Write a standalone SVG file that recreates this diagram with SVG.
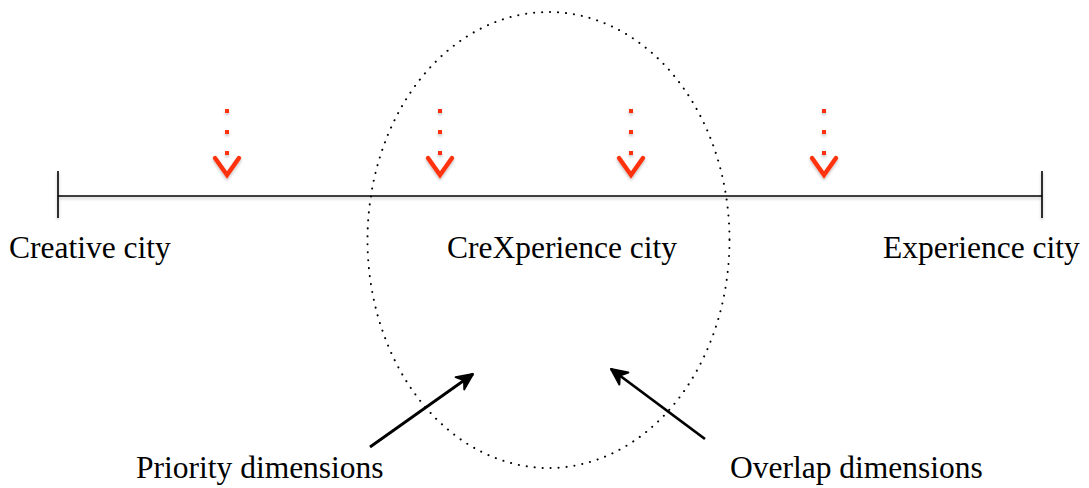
<svg xmlns="http://www.w3.org/2000/svg" width="1089" height="488" viewBox="0 0 1089 488">
  <style>
    .label { font-family: "Liberation Serif", "Times New Roman", serif; font-size: 31.5px; fill: #000; }
    .axis { stroke: #000; stroke-width: 1.6; fill: none; }
    .dots { stroke: #ff3311; stroke-width: 4; stroke-dasharray: 4 17; fill: none; }
    .chev { stroke: #ff3311; stroke-width: 4.4; fill: none; stroke-linecap: round; stroke-linejoin: miter; }
    .ptr { stroke: #000; stroke-width: 2.8; fill: none; }
  </style>
  <defs>
    <filter id="soft" x="-5%" y="-50%" width="110%" height="200%">
      <feDropShadow dx="0" dy="2" stdDeviation="1.5" flood-color="#000" flood-opacity="0.25"/>
    </filter>
    <marker id="barb" viewBox="0 0 16 16" refX="14" refY="8" markerWidth="16" markerHeight="16" markerUnits="userSpaceOnUse" orient="auto" overflow="visible">
      <path d="M-2,0.5 L14,8 L-2,15.5 L3,8 Z" fill="#000" stroke="#000" stroke-width="2" stroke-linejoin="round"/>
    </marker>
  </defs>

  <!-- scale axis -->
  <g id="axis" filter="url(#soft)">
    <line class="axis" x1="58" y1="196" x2="1042" y2="196"/>
    <line class="axis" x1="58" y1="171" x2="58" y2="218"/>
    <line class="axis" x1="1042" y1="171" x2="1042" y2="218"/>
  </g>

  <!-- overlap zone -->
  <g id="overlap-zone">
    <ellipse cx="548.5" cy="240" rx="181" ry="228" fill="none" stroke="#000" stroke-width="2" stroke-dasharray="0.1 7.9" stroke-linecap="round"/>
  </g>

  <!-- end and middle labels -->
  <g id="creative-city"><text class="label" x="9" y="258">Creative city</text></g>
  <g id="crexperience-city"><text class="label" x="447" y="258">CreXperience city</text></g>
  <g id="experience-city"><text class="label" x="883" y="258">Experience city</text></g>
  <g id="priority-dimensions"><text class="label" x="136" y="478">Priority dimensions</text></g>
  <g id="overlap-dimensions"><text class="label" x="730" y="478">Overlap dimensions</text></g>

  <!-- connectors -->
  <g id="connectors">
    <g filter="url(#soft)">
      <line class="dots" x1="227" y1="109" x2="227" y2="156"/>
      <polyline class="chev" points="215,158 227,175 239,158"/>
      <line class="dots" x1="440" y1="109" x2="440" y2="156"/>
      <polyline class="chev" points="428,158 440,175 452,158"/>
      <line class="dots" x1="631" y1="109" x2="631" y2="156"/>
      <polyline class="chev" points="619,158 631,175 643,158"/>
      <line class="dots" x1="824" y1="109" x2="824" y2="156"/>
      <polyline class="chev" points="812,158 824,175 836,158"/>
    </g>
    <line class="ptr" x1="370" y1="447" x2="473" y2="374" marker-end="url(#barb)"/>
    <line class="ptr" x1="705" y1="439" x2="611" y2="369" marker-end="url(#barb)"/>
  </g>
</svg>
